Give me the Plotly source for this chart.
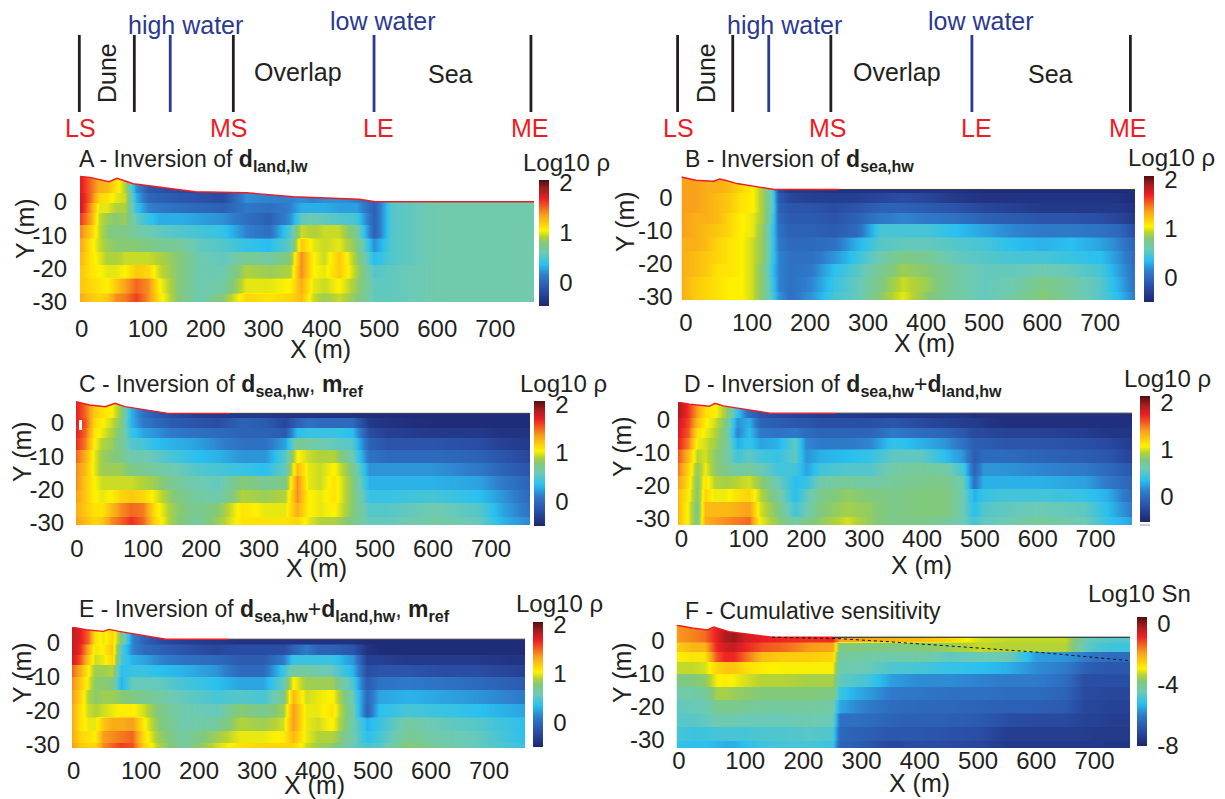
import plotly.graph_objects as go

W, H = 1225, 799

# ---------- schematic (metres along the profile) ----------
left_black = [-18, 77, 248, 762]
left_blue = [139, 491]
right_black = [-28, 67, 236, 752]
right_blue = [129, 479]
section_span = [35, 112]

# ---------- colour scale ----------
CS = [[0.00, "#1d2671"], [0.12, "#2a4ea5"], [0.24, "#2f7bcb"], [0.33, "#2ac0f0"],
      [0.42, "#6ccab5"], [0.50, "#82c97a"], [0.55, "#b5d334"], [0.60, "#fff200"],
      [0.72, "#f9a11b"], [0.85, "#ed2024"], [0.93, "#a51c1f"], [1.00, "#4f0f0f"]]

# ---------- panel A ----------
A_x = [-16, 0, 15, 30, 45, 60, 80, 100, 120, 150, 190, 230, 270, 310, 345, 365, 385, 405, 430, 460, 490, 520, 600, 767]
A_y = [8, 4, 1, -2, -5, -9, -13, -17, -21, -25, -30]
A_z = [
 [1.7,1.5,1.3,1.25,1.1,.9,.2,-.1,-.15,-.2,-.25,-.3,-.2,-.2,-.2,-.1,-.1,-.1,-.1,-.1,-.1,.6,.62,.62],
 [1.75,1.5,1.15,1.1,1.0,.95,.3,0,-.05,-.1,-.15,-.2,.2,.15,.15,.2,.15,.2,.2,.15,-.05,.55,.62,.62],
 [1.75,1.4,1.0,1.0,.9,.9,.4,.15,.1,.05,.0,-.05,.1,.05,.15,.3,.3,.3,.25,.25,-.05,.5,.62,.62],
 [1.6,1.35,.95,.85,.8,.85,.55,.4,.3,.3,.25,.2,.05,-.05,.2,.55,.6,.55,.5,.45,-.05,.5,.62,.62],
 [1.4,1.2,.95,.8,.75,.75,.65,.6,.55,.5,.45,.4,.15,.05,.5,.95,.9,.95,.95,.7,-.05,.5,.62,.62],
 [1.3,1.1,.95,.85,.8,.8,.8,.75,.7,.7,.55,.5,.4,.35,.55,1.2,1.0,.95,1.0,.8,.2,.5,.62,.62],
 [1.25,1.1,1.0,.9,.9,.95,.95,.95,.9,.8,.6,.55,.7,.65,.8,1.4,1.05,.95,1.2,.85,.35,.5,.62,.62],
 [1.2,1.1,1.05,1.0,1.0,1.05,1.2,1.15,.95,.8,.6,.6,.9,.85,.9,1.4,1.05,1.0,1.2,.9,.5,.55,.62,.62],
 [1.2,1.15,1.1,1.05,1.2,1.35,1.5,1.4,1.05,.8,.6,.65,1.0,1.0,1.05,1.3,1.0,.95,1.05,.85,.55,.55,.62,.62],
 [1.3,1.2,1.15,1.2,1.4,1.45,1.6,1.4,1.1,.8,.6,.8,1.15,1.1,1.15,1.25,.95,.85,.95,.8,.55,.55,.62,.62],
]
A_topo_x = [-17, 0, 33, 47, 75, 182, 270, 351, 465, 493, 767]
A_topo_y = [7.6, 7.3, 6, 7, 5.4, 3, 2.7, 1.5, .75, 0, 0]

# ---------- panel B ----------
B_x = [-21, 0, 20, 40, 60, 80, 100, 120, 135, 145, 165, 200, 240, 280, 320, 360, 400, 450, 500, 550, 600, 650, 700, 730, 760]
B_y = [7, 3, 0, -3, -6, -10, -14, -18, -22, -26, -31]
B_z = [
 [1.35,1.35,1.3,1.3,1.25,1.15,1.05,.85,.5,-.2,-.35,-.35,-.4,-.4,-.4,-.4,-.4,-.4,-.45,-.45,-.45,-.45,-.45,-.45,-.45],
 [1.35,1.35,1.3,1.25,1.2,1.1,1.05,.85,.5,-.1,-.25,-.3,-.3,-.3,-.25,-.2,-.25,-.35,-.4,-.4,-.4,-.4,-.4,-.4,-.45],
 [1.35,1.35,1.3,1.25,1.2,1.1,1.05,.85,.5,-.05,-.15,-.15,-.2,-.15,-.05,-.05,-.1,-.15,-.25,-.3,-.35,-.35,-.35,-.35,-.4],
 [1.35,1.3,1.3,1.25,1.15,1.05,1.0,.85,.45,0,-.1,-.1,-.15,-.05,.1,.15,.1,.05,-.05,-.1,-.15,-.15,-.2,-.25,-.35],
 [1.35,1.3,1.25,1.2,1.15,1.05,1.0,.8,.4,.05,-.05,-.05,-.1,.0,.45,.45,.45,.35,.25,.15,.1,.1,.05,0,-.2],
 [1.3,1.3,1.25,1.15,1.1,1.05,.95,.8,.4,.1,0,0,.05,.3,.5,.55,.55,.5,.45,.35,.3,.35,.25,.15,-.05],
 [1.3,1.25,1.2,1.15,1.1,1.05,.95,.8,.4,.15,.05,.05,.2,.4,.6,.75,.7,.55,.5,.45,.45,.4,.35,.2,.0],
 [1.3,1.25,1.2,1.1,1.1,1.05,.95,.75,.35,.15,.05,.1,.35,.5,.7,.85,.8,.65,.55,.55,.6,.55,.45,.25,.05],
 [1.3,1.2,1.15,1.1,1.05,1.05,.95,.75,.4,.15,.05,.15,.4,.55,.75,.95,.85,.65,.55,.6,.75,.65,.5,.3,.05],
 [1.3,1.2,1.15,1.1,1.05,1.05,.95,.75,.45,.2,.05,.2,.45,.55,.8,1.0,.8,.65,.55,.65,.8,.65,.5,.35,.1],
]
B_topo_x = [-22, 3, 34, 44, 54, 74, 138, 250, 762]
B_topo_y = [6.4, 5.4, 5.1, 5.8, 5.4, 4.4, 2.6, 2.6, 2.6]

# ---------- panel C ----------
C_x = [-16, 0, 15, 30, 45, 60, 80, 100, 120, 150, 190, 230, 270, 310, 345, 365, 385, 405, 430, 460, 490, 520, 600, 680, 720, 768]
C_y = [7, 3, 0, -3, -6, -10, -14, -18, -22, -26, -30.5]
C_z = [
 [1.7,1.5,1.2,1.1,1.05,.85,.3,.05,-.1,-.2,-.3,-.35,-.35,-.35,-.4,-.4,-.4,-.4,-.4,-.4,-.45,-.45,-.45,-.45,-.45,-.45],
 [1.7,1.55,1.15,1.05,.95,.8,.3,.1,0,-.1,-.15,-.2,-.05,-.1,-.25,-.05,.05,.0,.0,.0,-.35,-.4,-.45,-.45,-.45,-.45],
 [1.7,1.5,1.1,1.0,.9,.75,.4,.25,.2,.1,.05,0,-.05,-.05,-.1,.35,.4,.4,.4,.35,-.2,-.3,-.35,-.35,-.4,-.4],
 [1.65,1.45,1.05,.9,.85,.7,.5,.45,.35,.3,.25,.15,.05,.05,.25,.7,.65,.6,.55,.5,-.05,-.15,-.15,-.2,-.3,-.35],
 [1.5,1.3,1.0,.85,.8,.75,.6,.6,.55,.45,.35,.3,.2,.2,.5,1.05,.95,.9,.9,.6,.05,0,0,-.05,-.15,-.25],
 [1.4,1.25,1.0,.85,.85,.85,.75,.7,.65,.6,.5,.45,.4,.35,.55,1.25,1.0,.95,1.05,.75,.2,.2,.2,.1,-.05,-.15],
 [1.4,1.2,1.05,.95,.95,.95,.95,.9,.85,.7,.6,.55,.8,.7,.75,1.4,1.0,.95,1.1,.8,.3,.3,.3,.25,.1,-.05],
 [1.35,1.2,1.05,1.0,1.05,1.15,1.2,1.15,1.0,.8,.65,.6,.9,.85,.9,1.4,1.05,1.0,1.1,.8,.4,.4,.45,.35,.2,.0],
 [1.3,1.2,1.1,1.1,1.25,1.4,1.5,1.45,1.1,.85,.7,.8,1.1,1.0,1.0,1.3,1.05,1.0,1.05,.8,.5,.5,.6,.5,.25,.05],
 [1.35,1.25,1.15,1.2,1.4,1.5,1.65,1.5,1.15,.85,.65,.85,1.1,1.1,1.1,1.15,1.0,.9,.9,.75,.55,.55,.65,.55,.3,.15],
]
C_topo_x = [-16, 8, 35, 52, 69, 143, 250, 768]
C_topo_y = [6.4, 5.4, 4.9, 5.9, 4.9, 2.9, 2.9, 2.9]

# ---------- panel D ----------
D_x = [-22, -5, 10, 25, 40, 60, 80, 100, 120, 150, 180, 200, 225, 270, 310, 350, 400, 440, 470, 490, 505, 540, 600, 680, 720, 763]
D_y = [6, 2, -1, -4, -7, -11, -15, -19, -23, -27, -32]
D_z = [
 [1.95,1.7,1.4,1.15,1.1,.9,.4,0,-.15,-.25,-.3,-.3,-.35,-.35,-.4,-.4,-.4,-.4,-.4,-.45,-.45,-.45,-.45,-.45,-.45,-.45],
 [1.85,1.65,1.3,1.1,1.0,.8,.2,.3,-.05,-.1,-.15,-.15,-.2,-.2,-.2,-.15,-.25,-.3,-.35,-.35,-.4,-.45,-.45,-.45,-.45,-.45],
 [1.8,1.6,1.15,1.05,.95,.75,.15,.35,.1,.05,.1,.0,-.05,-.05,-.05,.1,.0,-.05,-.15,-.25,-.25,-.3,-.3,-.35,-.4,-.4],
 [1.75,1.5,1.05,1.0,.9,.75,.3,.4,.25,.3,.55,.15,.1,.1,.15,.4,.3,.2,.05,-.1,-.1,-.15,-.15,-.2,-.25,-.35],
 [1.6,1.3,.95,1.0,.85,.7,.45,.55,.45,.4,.55,.2,.3,.35,.4,.55,.55,.35,.2,-.1,.0,0,-.05,-.1,-.15,-.3],
 [1.5,1.2,.85,1.05,.85,.75,.65,.7,.6,.45,.45,.25,.45,.5,.5,.65,.7,.65,.45,-.05,.2,.2,.15,.1,0,-.15],
 [1.4,1.15,.8,1.15,.95,.9,.95,1.0,.85,.6,.35,.4,.65,.7,.65,.7,.75,.75,.6,.05,.3,.3,.3,.25,.1,-.05],
 [1.3,1.1,.8,1.2,1.05,1.05,1.15,1.2,.95,.7,.35,.55,.75,.85,.8,.75,.8,.8,.6,.3,.4,.45,.45,.4,.3,.0],
 [1.3,1.05,.75,1.3,1.3,1.3,1.35,1.4,1.0,.8,.45,.6,.8,.9,.85,.75,.8,.8,.6,.35,.5,.55,.6,.55,.35,.1],
 [1.3,1.05,.75,1.35,1.4,1.45,1.5,1.55,1.05,.85,.65,.75,.85,1.0,.85,.75,.75,.7,.6,.45,.55,.6,.7,.6,.4,.25],
]
D_topo_x = [-23, -2, 32, 42, 56, 137, 250, 763]
D_topo_y = [5.5, 4.8, 4.2, 5.1, 4.3, 2.1, 2.1, 2.1]

# ---------- panel E ----------
E_x = [-19, -5, 8, 20, 35, 50, 65, 85, 105, 130, 170, 230, 270, 310, 345, 362, 385, 405, 430, 465, 490, 510, 560, 620, 680, 762]
E_y = [5, 1, -2, -5, -8, -12, -16, -20, -24, -28, -31]
E_z = [
 [1.8,1.7,1.5,1.1,1.0,1.15,.75,.15,-.05,-.2,-.3,-.35,-.4,-.4,-.4,-.4,-.4,-.4,-.4,-.4,-.45,-.45,-.45,-.45,-.45,-.45],
 [1.8,1.65,1.3,1.0,1.05,1.2,.5,.15,.0,-.05,-.15,-.25,-.2,-.2,-.2,-.05,.1,-.05,-.05,-.15,-.4,-.45,-.45,-.45,-.45,-.45],
 [1.75,1.55,1.2,.95,1.0,1.15,.45,.3,.25,.15,.05,-.0,-.1,-.1,.1,.4,.4,.4,.4,.2,-.3,-.3,-.35,-.35,-.35,-.4],
 [1.5,1.3,1.05,.85,.85,.9,.35,.4,.4,.35,.3,.2,.0,.0,.4,.65,.65,.6,.55,.3,-.2,-.15,-.15,-.2,-.2,-.3],
 [1.4,1.2,1.0,.8,.8,.75,.3,.55,.55,.55,.45,.35,.25,.25,.55,1.05,.85,.85,.85,.45,-.1,.05,.1,.05,0,-.1],
 [1.35,1.15,.9,.8,.85,.85,.8,.75,.7,.65,.55,.45,.5,.45,.7,1.25,.95,1.0,1.05,.55,.0,.25,.3,.25,.2,.1],
 [1.3,1.1,.95,.9,.95,1.0,1.05,1.05,.95,.75,.6,.55,.8,.7,.85,1.35,1.0,1.0,1.1,.6,-.05,.35,.45,.4,.35,.25],
 [1.3,1.1,1.0,1.0,1.2,1.3,1.3,1.35,1.05,.8,.6,.65,.9,.85,.95,1.35,1.0,.95,1.05,.6,.3,.4,.65,.55,.5,.35],
 [1.3,1.15,1.1,1.05,1.35,1.4,1.45,1.5,1.1,.85,.65,.85,1.0,1.0,1.05,1.25,1.0,.9,.9,.6,.35,.45,.7,.6,.55,.35],
 [1.35,1.2,1.15,1.15,1.4,1.5,1.6,1.55,1.15,.9,.65,.95,1.1,1.15,1.15,1.15,.95,.85,.8,.55,.45,.5,.8,.65,.55,.4],
]
E_topo_x = [-20, 5, 35, 45, 62, 143, 250, 762]
E_topo_y = [4.7, 3.9, 3.4, 4.0, 3.4, 1.1, 1.1, 1.1]

# ---------- panel F ----------
F_x = [-18, 10, 30, 50, 65, 80, 100, 130, 170, 210, 250, 262, 280, 310, 350, 400, 450, 500, 550, 600, 650, 685, 700, 730, 761]
F_y = [5, 1, -2, -5, -8, -12, -16, -20, -24, -28, -32.5]
F_z = [
 [-1.9,-1.7,-1.5,-.8,-.3,-.1,-.6,-.8,-.9,-1.0,-.9,-2.0,-2.0,-2.1,-2.2,-2.3,-2.6,-3.2,-3.3,-3.3,-3.3,-4.5,-4.6,-4.7,-4.8],
 [-2.5,-2.2,-2.2,-.9,-.6,-.5,-.9,-1.3,-1.5,-1.9,-2.0,-4.0,-3.8,-3.9,-3.9,-3.8,-3.6,-3.3,-3.4,-3.4,-3.4,-4.6,-4.8,-5.0,-5.0],
 [-2.9,-2.8,-2.8,-1.3,-.9,-.9,-1.5,-2.3,-2.5,-2.5,-2.6,-4.3,-4.2,-4.3,-4.4,-4.3,-4.6,-4.5,-4.4,-5.6,-5.7,-6.0,-6.2,-6.3,-6.3],
 [-3.3,-3.3,-3.2,-2.6,-2.4,-2.4,-2.7,-2.9,-3.0,-3.0,-3.0,-4.4,-4.4,-4.5,-4.8,-4.9,-5.1,-5.2,-5.4,-5.8,-6.0,-6.6,-6.7,-6.8,-6.8],
 [-3.9,-3.8,-3.7,-3.0,-2.9,-3.0,-3.2,-3.4,-3.4,-3.5,-3.5,-4.6,-4.7,-4.9,-5.6,-5.8,-5.8,-5.9,-6.0,-6.0,-6.3,-7.0,-7.0,-7.0,-7.0],
 [-4.4,-4.3,-4.2,-3.5,-3.5,-3.6,-3.7,-3.8,-3.8,-3.8,-3.9,-5.0,-5.3,-5.6,-6.0,-6.1,-6.2,-6.2,-6.3,-6.3,-6.5,-7.1,-7.1,-7.2,-7.2],
 [-4.6,-4.5,-4.5,-4.0,-4.0,-4.0,-4.1,-4.2,-4.2,-4.2,-4.3,-5.5,-5.7,-6.0,-6.3,-6.4,-6.4,-6.5,-6.6,-6.6,-6.7,-7.2,-7.2,-7.3,-7.3],
 [-4.7,-4.7,-4.6,-4.4,-4.4,-4.4,-4.5,-4.5,-4.5,-4.4,-4.5,-6.2,-6.2,-6.3,-6.5,-6.6,-6.6,-6.7,-7.0,-7.1,-7.1,-7.3,-7.3,-7.4,-7.4],
 [-4.9,-5.0,-5.0,-4.9,-4.9,-4.9,-4.9,-4.8,-4.8,-4.7,-4.8,-6.4,-6.5,-6.6,-6.8,-6.8,-6.9,-7.0,-7.4,-7.4,-7.4,-7.4,-7.5,-7.5,-7.5],
 [-5.1,-5.2,-5.2,-5.3,-5.4,-5.4,-5.2,-5.0,-4.9,-4.9,-5.0,-6.5,-6.6,-6.8,-7.2,-7.0,-7.1,-7.2,-7.5,-7.5,-7.5,-7.5,-7.5,-7.6,-7.6],
]
F_topo_x = [-19, 9, 35, 46, 72, 146, 250, 761]
F_topo_y = [4.8, 3.9, 3.3, 4.2, 2.8, 1.1, 1.1, 1.1]
F_bed_x = [146, 258, 350, 490, 600, 761]
F_bed_y = [1.1, .7, -.3, -2, -3.4, -6]

X_TICKS = [100, 200, 300, 400, 500, 600, 700]
Y_TICKS = [0, -10, -20, -30]

# panel geometry: px box, axis ranges, tick label offsets, colour bar box
P = [
 dict(n="A", x=A_x, y=A_y, z=A_z, tx=A_topo_x, ty=A_topo_y, box=(80, 534, 175, 302), xr=(-17, 767), yr=(-30, 8),
      x0=-14, xl=5, yl=7, cb=(539, 549, 180, 306), zr=(-.48, 2.06), tv=[0, 1, 2]),
 dict(n="B", x=B_x, y=B_y, z=B_z, tx=B_topo_x, ty=B_topo_y, box=(681.5, 1135, 175, 300), xr=(-21.5, 760), yr=(-31, 7),
      x0=-14, xl=1, yl=3, cb=(1144, 1154, 176, 302), zr=(-.5, 2.07), tv=[0, 1, 2]),
 dict(n="C", x=C_x, y=C_y, z=C_z, tx=C_topo_x, ty=C_topo_y, box=(76, 530.5, 401, 525), xr=(-15.5, 768), yr=(-30.6, 6.6),
      x0=-14, xl=2, yl=6, cb=(534, 545, 401, 526), zr=(-.5, 2.07), tv=[0, 1, 2]),
 dict(n="D", x=D_x, y=D_y, z=D_z, tx=D_topo_x, ty=D_topo_y, box=(678, 1132, 402, 525), xr=(-22, 763), yr=(-32, 5.5),
      x0=-16, xl=-3, yl=2, cb=(1140, 1150, 396, 522), zr=(-.53, 2.15), tv=[0, 1, 2]),
 dict(n="E", x=E_x, y=E_y, z=E_z, tx=E_topo_x, ty=E_topo_y, box=(72, 525, 627, 748), xr=(-19, 762), yr=(-31, 4.7),
      x0=-16, xl=1, yl=6, cb=(533, 543, 622, 747), zr=(-.5, 2.06), tv=[0, 1, 2]),
 dict(n="F", x=F_x, y=F_y, z=F_z, tx=F_topo_x, ty=F_topo_y, box=(676.5, 1130, 625, 748), xr=(-18, 761), yr=(-32.4, 4.8),
      x0=-14, xl=-4, yl=6, cb=(1137, 1147, 617, 746), zr=(-8, .4), tv=[-8, -4, 0]),
]

FONT = "Liberation Sans, Arial, sans-serif"
INK = "#231f20"
CLEAR = "rgba(0,0,0,0)"
TICK = 24
fig = go.Figure()
layout = {}


def layers(y, z):
    """Repeat each model layer at its upper and lower edge, so it is drawn as a band."""
    edges = [y[0]] + [(y[j] + y[j + 1]) / 2 for j in range(1, len(y) - 1)] + [y[-1]]
    ys, zs = [], []
    for j, row in enumerate(z):
        ys += [edges[j], edges[j + 1] + 0.35]
        zs += [row, row]
    return ys, zs


for i, p in enumerate(P, start=1):
    ax = "" if i == 1 else str(i)
    l, r, t, b = p["box"]
    for row in p["z"]:
        assert len(row) == len(p["x"]), p["n"]
    assert len(p["z"]) + 1 == len(p["y"]), p["n"]
    ys, zs = layers(p["y"], p["z"])
    cl, cr, ct, cb = p["cb"]
    fig.add_trace(go.Heatmap(
        x=p["x"], y=ys[::-1], z=zs[::-1], xaxis="x" + ax, yaxis="y" + ax,
        colorscale=CS, zmin=p["zr"][0], zmax=p["zr"][1], zsmooth="best", hoverinfo="skip",
        colorbar=dict(x=cl / W, xanchor="left", y=1 - cb / H, yanchor="bottom",
                      len=(cb - ct) / H, lenmode="fraction", thickness=cr - cl, thicknessmode="pixels",
                      xpad=0, ypad=0, outlinewidth=0, ticks="outside", ticklen=6, tickcolor=CLEAR,
                      tickvals=p["tv"], ticktext=[str(v) for v in p["tv"]],
                      tickfont=dict(family=FONT, size=TICK, color=INK))))
    # white mask above the ground surface
    mask_x = [p["xr"][0]] + p["tx"] + [p["xr"][1], p["xr"][1], p["xr"][0]]
    mask_y = [p["ty"][0]] + p["ty"] + [p["ty"][-1], p["yr"][1] + 5, p["yr"][1] + 5]
    fig.add_trace(go.Scatter(x=mask_x, y=mask_y, mode="lines", fill="toself", fillcolor="white",
                             line=dict(width=0), xaxis="x" + ax, yaxis="y" + ax, hoverinfo="skip", showlegend=False))
    # red surface on land, dark on the sea
    k = p["tx"].index(250) if 250 in p["tx"] else len(p["tx"]) - 1
    fig.add_trace(go.Scatter(x=p["tx"][:k + 1], y=p["ty"][:k + 1], mode="lines", line=dict(color="#ed1c24", width=1.4),
                             xaxis="x" + ax, yaxis="y" + ax, hoverinfo="skip", showlegend=False))
    if k < len(p["tx"]) - 1:
        fig.add_trace(go.Scatter(x=p["tx"][k:], y=p["ty"][k:], mode="lines",
                                 line=dict(color="#3a3a4a" if p["n"] != "F" else "#111", width=1),
                                 xaxis="x" + ax, yaxis="y" + ax, hoverinfo="skip", showlegend=False))
    xl = p["xl"]
    layout["xaxis" + ax] = dict(domain=[l / W, r / W], range=list(p["xr"]), anchor="y" + ax,
                                tickvals=[p["x0"]] + X_TICKS, ticktext=["0"] + [str(v) for v in X_TICKS],
                                ticks="outside" if xl > 0 else "", ticklen=max(xl, 0), tickcolor=CLEAR,
                                ticklabelstandoff=min(xl, 0), showgrid=False, zeroline=False,
                                showline=False, tickfont=dict(family=FONT, size=TICK, color=INK))
    layout["yaxis" + ax] = dict(domain=[1 - b / H, 1 - t / H], range=list(p["yr"]), anchor="x" + ax,
                                tickvals=Y_TICKS, ticktext=[str(v) for v in Y_TICKS],
                                ticks="outside", ticklen=p["yl"], tickcolor=CLEAR, showgrid=False, zeroline=False,
                                showline=False, tickfont=dict(family=FONT, size=TICK, color=INK))

fig.add_trace(go.Scatter(x=F_bed_x, y=F_bed_y, mode="lines", line=dict(color="#111", width=1, dash="dot"),
                         xaxis="x6", yaxis="y6", hoverinfo="skip", showlegend=False))


# schematic axes above the top row
def boundaries(xs):
    out_x, out_y = [], []
    for v in xs:
        out_x += [v, v, None]
        out_y += section_span + [None]
    return out_x, out_y


for ax, blk, blu, rng, dom in (("7", left_black, left_blue, (-155, 902), [0, 612 / W]),
                               ("8", right_black, right_blue, (-141, 915), [612 / W, 1])):
    for xs, col in ((blk, "#231f20"), (blu, "#2b3990")):
        bx, by = boundaries(xs)
        fig.add_trace(go.Scatter(x=bx, y=by, mode="lines", line=dict(color=col, width=2.8),
                                 xaxis="x" + ax, yaxis="y" + ax, hoverinfo="skip", showlegend=False))
    layout["xaxis" + ax] = dict(domain=dom, range=list(rng), visible=False, anchor="y" + ax)
    layout["yaxis" + ax] = dict(domain=[1 - 150 / H, 1], range=[150, 0], visible=False, anchor="x" + ax)

# text
ann = []


def txt(px, py, s, size=24, color=INK, anchor="center", angle=0):
    ann.append(dict(x=px / W, y=1 - py / H, xref="paper", yref="paper", text=s, showarrow=False, xanchor=anchor,
                    yanchor="middle", textangle=angle, xshift=0, yshift=0, borderpad=0, borderwidth=0,
                    font=dict(family=FONT, size=size, color=color)))


BLUE, RED = "#2b3990", "#ed1c24"
for hw, lw in ((185, 383), (784, 981)):
    txt(hw, 25, "high water", size=25, color=BLUE)
    txt(lw, 21, "low water", size=25, color=BLUE)
for s, x1, x2, y in (("Overlap", 298, 897, 72), ("Sea", 451, 1050, 74)):
    txt(x1, y, s, size=25)
    txt(x2, y, s, size=25)
txt(107, 73, "Dune", size=25, angle=-90)
txt(706, 73, "Dune", size=25, angle=-90)
for s, x1, x2 in (("LS", 80, 678), ("MS", 229, 828), ("LE", 378, 976), ("ME", 530, 1128)):
    txt(x1, 128, s, size=25, color=RED)
    txt(x2, 128, s, size=25, color=RED)


def S(a):
    return f"<sub><b>{a}</b></sub>"


txt(79, 160, "A - Inversion of <b>d</b>" + S("land,lw"), size=23, anchor="left")
txt(685, 160, "B - Inversion of <b>d</b>" + S("sea,hw"), size=23, anchor="left")
txt(79, 385, "C - Inversion of <b>d</b>" + S("sea,hw") + ", <b>m</b>" + S("ref"), size=23, anchor="left")
txt(684, 385, "D - Inversion of <b>d</b>" + S("sea,hw") + "+<b>d</b>" + S("land,hw"), size=23, anchor="left")
txt(79, 610, "E - Inversion of <b>d</b>" + S("sea,hw") + "+<b>d</b>" + S("land,hw") + ", <b>m</b>" + S("ref"), size=23, anchor="left")
txt(685, 611, "F - Cumulative sensitivity", size=23, anchor="left")

for s, x, y in (("Log10 ρ", 523, 162), ("Log10 ρ", 1128, 157), ("Log10 ρ", 520, 383),
                ("Log10 ρ", 1124, 378), ("Log10 ρ", 516, 603), ("Log10 Sn", 1088, 593)):
    txt(x, y, s, anchor="left")

for x, y in ((320, 349), (925, 343), (316, 568), (921, 565), (314, 785), (919, 783)):
    txt(x, y, "X (m)", size=25)
for x, y in ((25, 228), (625, 222), (22, 452), (622, 447), (22, 673), (622, 673)):
    txt(x, y, "Y (m)", size=25, angle=-90)

# small white gap in panel C and grey tick under the colour bar of panel D
shapes = [dict(type="rect", xref="paper", yref="paper", x0=79 / W, x1=82 / W, y0=1 - 430 / H, y1=1 - 420 / H,
               fillcolor="white", line=dict(width=0)),
          dict(type="line", xref="paper", yref="paper", x0=1140 / W, x1=1150 / W, y0=1 - 525 / H, y1=1 - 525 / H,
               line=dict(color="#999", width=1))]

fig.update_layout(width=W, height=H, margin=dict(l=0, r=0, t=0, b=0, autoexpand=False), paper_bgcolor="white",
                  plot_bgcolor="white", showlegend=False, annotations=ann, shapes=shapes, **layout)
fig.write_html("out.html", config={"displayModeBar": False},
               post_script="document.body.style.margin='0';document.body.style.overflow='hidden';")
